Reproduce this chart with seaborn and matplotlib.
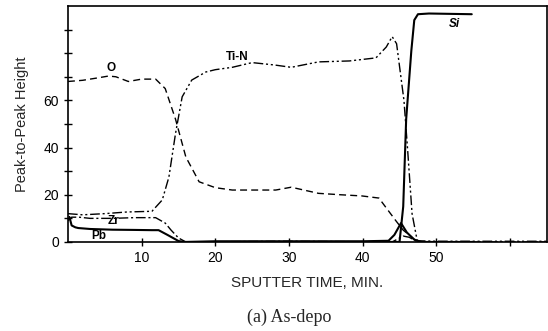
import matplotlib
matplotlib.use("Agg")
import matplotlib.pyplot as plt
import seaborn as sns

# Ti-N (dash-dot-dot)
tin_x = [0, 2, 5, 8, 11.4, 12.8, 13.7, 14.6, 15.5, 16.8, 18.7, 20, 22.3, 25, 28, 30.3,
         34, 38.2, 41.8, 43.2, 44, 44.6, 45.6, 46.1, 46.7, 47.4, 50, 65]
tin_y = [12, 11.5, 12, 12.7, 13, 17.8, 27.5, 46, 61.5, 68.6, 72, 73, 74, 76, 75, 74,
         76.3, 76.7, 78, 82.6, 87, 84, 60, 39, 12, 0.5, 0.3, 0.3]

# O (dashed)
o_x = [0, 2, 4, 5.5, 6.5, 8.2, 10, 11.9, 13.2, 14.6, 16, 17.8, 20, 22.3, 25, 28.2,
       30.3, 34, 37, 39.9, 42.2, 43.3, 44.5, 45.5, 46.3, 47.4]
o_y = [68, 68.5, 69.5, 70.3, 70, 68, 69, 69, 65, 52, 36, 25.5, 23, 22, 22, 22,
       23.2, 20.6, 20, 19.5, 18.6, 14, 9, 5, 3, 0]

# Zr (dash-dot)
zr_x = [0, 0.5, 1.5, 3, 6, 9, 11.9, 13.2, 14, 15, 16, 30, 44, 45.5, 46.3, 47.5, 65]
zr_y = [9, 10.5, 10.5, 10, 10, 10.3, 10.3, 8, 5, 1.7, 0, 0.3, 0, 2.5, 2, 0, 0]

# Pb (solid)
pb_x = [0.2, 0.5, 1, 1.4, 3, 6, 9, 11.4, 12.3, 13.5, 15, 15.8, 20, 30, 40, 43.5,
        44.3, 45.2, 46, 47, 48, 55]
pb_y = [10.6, 7, 6.2, 5.9, 5.5, 5.2, 5.1, 5, 5, 3, 0.4, 0, 0.3, 0.3, 0.3, 0.5,
        3, 8, 4, 1, 0, 0]

# Si (solid)
si_x = [43, 45.0, 45.5, 45.9, 46.6, 47.0, 47.5, 49, 54.8]
si_y = [0, 0, 15, 52, 81, 94, 96.5, 96.8, 96.5]

sns.set_style("ticks")
plt.rcParams['font.family'] = ['Liberation Sans', 'DejaVu Sans']

fig = plt.figure(figsize=(5.48, 3.31), dpi=100)
ax = fig.add_axes([0.124, 0.269, 0.874, 0.713])

sns.lineplot(x=o_x, y=o_y, ax=ax, color="black", lw=1.0, linestyle=(0, (5, 3)), sort=False)
sns.lineplot(x=tin_x, y=tin_y, ax=ax, color="black", lw=1.0,
             linestyle=(0, (7, 2, 1.5, 2, 1.5, 2)), sort=False)
sns.lineplot(x=zr_x, y=zr_y, ax=ax, color="black", lw=1.0, linestyle=(0, (7, 2, 1.5, 2)), sort=False)
sns.lineplot(x=pb_x, y=pb_y, ax=ax, color="black", lw=1.5, sort=False)
sns.lineplot(x=si_x, y=si_y, ax=ax, color="black", lw=1.5, sort=False)

ax.set_xlim(0, 65)
ax.set_ylim(0, 100)
ax.set_xticks(range(10, 61, 10))
ax.set_xticklabels(["10", "20", "30", "40", "50", ""])
ax.set_yticks(range(0, 91, 10))
ax.set_yticklabels(["0", "", "20", "", "40", "", "60", "", "", ""])
ax.tick_params(direction="inout", length=6, width=1, labelsize=10, colors="black")
for s in ax.spines.values():
    s.set_linewidth(1.2)
    s.set_color("black")

lbl = dict(fontsize=8.5, fontweight="bold", color="black")
ax.text(5.9, 73.5, "O", ha="center", va="center", **lbl)
ax.text(23, 78.5, "Ti-N", ha="center", va="center", **lbl)
ax.text(52.4, 92.5, "Si", ha="center", va="center", style="italic", **lbl)
ax.text(6.2, 9.0, "Zr", ha="center", va="center", **lbl)
ax.text(4.2, 2.5, "Pb", ha="center", va="center", **lbl)

ax.set_xlabel("SPUTTER TIME, MIN.", fontsize=11, labelpad=8)
ax.set_ylabel("Peak-to-Peak Height", fontsize=10.5,
              family=['Liberation Sans Narrow', 'Liberation Sans'], labelpad=10)

fig.text(0.528, 0.04, "(a) As-depo", ha="center", va="center", fontsize=13,
         family=['Liberation Serif', 'DejaVu Serif'])

fig.savefig("out.png", dpi=100)
